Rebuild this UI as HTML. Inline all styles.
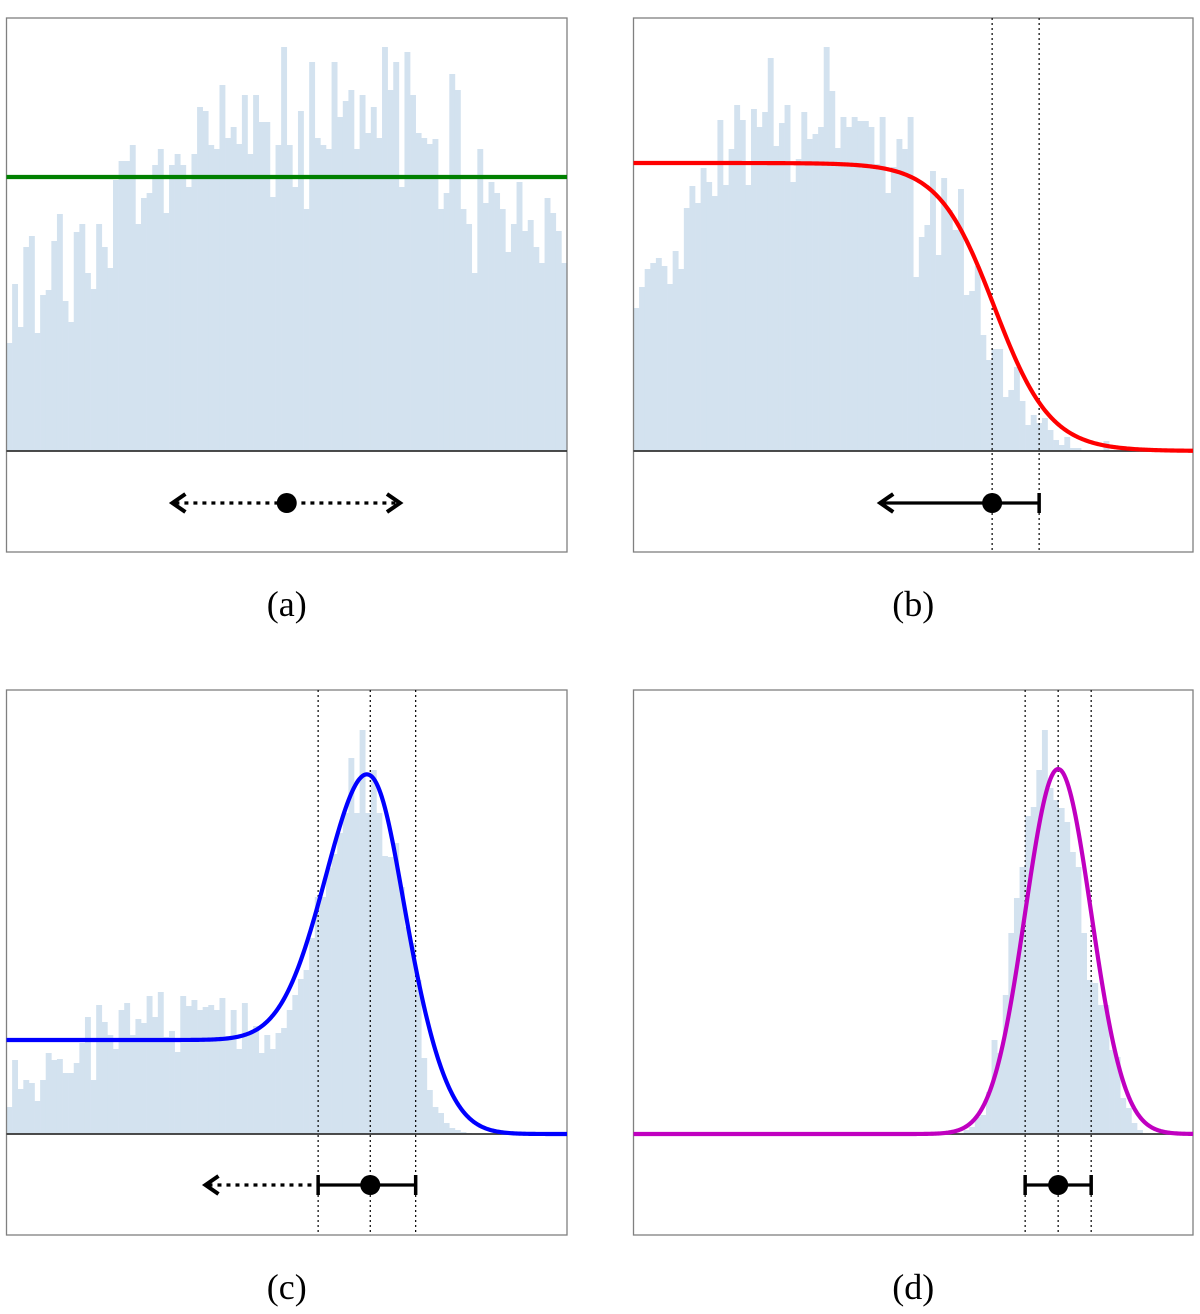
<!DOCTYPE html>
<html><head><meta charset="utf-8">
<style>
html,body{margin:0;padding:0;background:#fff;}
svg{display:block;}
text{font-family:"Liberation Serif",serif;}
</style></head>
<body>
<svg id="fig" width="1200" height="1314" viewBox="0 0 1200 1314" xmlns="http://www.w3.org/2000/svg"></svg>
<script>
// ---- data (bin heights, in histogram count units) ----
const histA = [108,167,124,204,215,118,156,161,210,237,150,129,219,227,178,162,227,204,183,271,
290,290,306,227,253,258,286,302,238,286,297,286,264,297,344,340,306,302,366,313,
324,307,356,297,356,329,329,254,306,404,306,264,340,242,389,313,306,302,389,334,
350,361,302,356,318,344,313,404,361,389,264,399,356,318,313,307,312,242,258,377,
361,242,227,178,302,248,269,258,242,199,227,269,220,231,204,188,253,238,220,188];
const histB = [143,164,182,188,193,185,167,200,182,243,265,248,283,269,255,331,266,302,346,331,
266,342,324,339,393,305,328,346,269,292,339,312,317,324,404,360,303,334,324,334,
330,330,324,287,334,258,284,312,302,334,174,214,226,280,196,273,241,221,262,156,
160,185,116,91,102,102,54,61,84,50,26,36,28,33,21,11,6,14,3,3,
0,0,0,0,10,0,0,0,0,0,0,0,0,0,0,0,0,0,0,0];
const histC = [27,74,45,54,51,33,54,81,74,75,61,61,71,91,117,54,129,112,99,85,
124,131,99,115,111,138,117,142,97,103,82,138,128,134,124,127,129,124,136,97,
124,85,131,101,108,81,99,85,101,106,124,139,155,164,196,237,237,266,280,301,
321,376,321,404,321,364,321,278,277,291,247,207,191,154,76,44,27,21,11,6,
4,2,1,0,0,0,0,0,0,0,0,0,0,0,0,0,0,0,0,0];
const histD = [0,0,0,0,0,0,0,0,0,0,0,0,0,0,0,0,0,0,0,0,
0,0,0,0,0,0,0,0,0,0,0,0,0,0,0,0,0,0,0,0,
0,0,0,0,0,0,0,0,0,0,0,0,0,0,0,0,0,0,0,4,
7,17,19,42,94,81,139,201,236,267,318,327,364,404,346,334,326,312,282,267,
201,154,151,129,129,84,77,36,26,11,4,0,0,0,0,0,0,0,0,0];
// model parameters (x in bin units 0..100, y in count units)
const flatLevelA = [274];
const sigmoidB = [288, 64.5, 5.0];            // height, center, scale
const peakC = [94, 275, 65.1, 8.0, 7.3, 69.3, 2.1]; // plateau, amp, mean, sigL, sigR, cutCenter, cutScale
const gaussD = [365, 75.9, 5.9];              // amp, mean, sigma
// estimate markers (bin units)
const estA = [50.0, 29.6, 70.2];
const estB = [64.1, 44.1, 72.5];
const estC = [64.9, 35.5, 55.6, 73.0];
const estD = [75.9, 70.0, 81.8];
const labels = ["(a)","(b)","(c)","(d)"];

const NS = "http://www.w3.org/2000/svg";
const svg = document.getElementById("fig");
function mk(tag, attrs, parent){
  const e = document.createElementNS(NS, tag);
  for (const k in attrs) e.setAttribute(k, attrs[k]);
  (parent||svg).appendChild(e);
  return e;
}
const panels = [
  {x0:6.5, x1:567, top:18, base:451, bot:552},
  {x0:633.5, x1:1193, top:18, base:451, bot:552},
  {x0:6.5, x1:567, top:690, base:1134, bot:1235},
  {x0:633.5, x1:1193, top:690, base:1134, bot:1235}
];
function xs(p, v){ return p.x0 + (p.x1 - p.x0) * v / 100; }
function ys(p, v){ return p.base - v; }

function drawPanel(i, hist, curveFn, color, dashes, name){
  const p = panels[i];
  const g = mk("g", {});
  
  
  const bw = (p.x1 - p.x0) / hist.length;
  const hg = mk("g", {}, g);
  
  
  hist.forEach((v, k) => {
    if (v <= 0) return;
    const x = xs(p, k * 100 / hist.length);
    const r = mk("rect", {x:x, y:ys(p, v), width:bw + 0.3, height:p.base - ys(p, v), fill:"#d3e2ef"}, hg);
    
    
  });
  const fr = mk("rect", {x:p.x0, y:p.top, width:p.x1 - p.x0, height:p.bot - p.top, fill:"none", stroke:"#808080", "stroke-width":1.3}, g);
  
  
  const bl = mk("line", {x1:p.x0, x2:p.x1, y1:p.base, y2:p.base, stroke:"#333", "stroke-width":1.8}, g);
  
  
  dashes.forEach(d => {
    const l = mk("line", {x1:xs(p,d), x2:xs(p,d), y1:p.top, y2:p.bot, stroke:"#000", "stroke-width":1.2, "stroke-dasharray":"2,3"}, g);
    
    
  });
  let d = "";
  for (let s = 0; s <= 400; s++) {
    const v = s / 4;
    d += (s ? "L" : "M") + xs(p, v).toFixed(2) + "," + ys(p, curveFn(v)).toFixed(2);
  }
  const c = mk("path", {d:d, fill:"none", stroke:color, "stroke-width":4.2, "stroke-linejoin":"round"}, g);
  
  
  return g;
}
function chevron(g, x, y, dir){
  const h = mk("path", {d:`M${x + dir*13},${y-9} L${x},${y} L${x + dir*13},${y+9}`, fill:"none", stroke:"#000", "stroke-width":4, "stroke-linejoin":"miter"}, g);
  
  
}
function seg(g, x1, x2, y, dotted, name){
  const l = mk("line", {x1:x1, x2:x2, y1:y, y2:y, stroke:"#000", "stroke-width":3.2}, g);
  if (dotted) l.setAttribute("stroke-dasharray", "4,5");
  
  
}
function cap(g, x, y){
  const l = mk("line", {x1:x, x2:x, y1:y-10, y2:y+10, stroke:"#000", "stroke-width":3.5}, g);
  
  
}
function dot(g, x, y){
  const c = mk("circle", {cx:x, cy:y, r:10, fill:"#000"}, g);
  
  
}
function label(i, t){
  const p = panels[i];
  const e = mk("text", {x:(p.x0 + p.x1) / 2, y:p.bot + 64, "text-anchor":"middle", "font-size":36, fill:"#000"});
  e.textContent = t;
  
  
}

let g = drawPanel(0, histA, v => flatLevelA[0], "#008000", [], "a");
{ const p = panels[0], y = 503;
  seg(g, xs(p, estA[1]) + 3, xs(p, estA[2]) - 3, y, true, 'range-arrow');
  chevron(g, xs(p, estA[1]), y, 1); chevron(g, xs(p, estA[2]), y, -1);
  dot(g, xs(p, estA[0]), y); }
g = drawPanel(1, histB, v => sigmoidB[0] / (1 + Math.exp((v - sigmoidB[1]) / sigmoidB[2])), "#ff0000", [estB[0], estB[2]], "b");
{ const p = panels[1], y = 503;
  seg(g, xs(p, estB[1]) + 2, xs(p, estB[2]), y, false, 'upper-limit-arrow');
  chevron(g, xs(p, estB[1]), y, 1); cap(g, xs(p, estB[2]), y);
  dot(g, xs(p, estB[0]), y); }
g = drawPanel(2, histC, v => {
  const cut = 1 / (1 + Math.exp((v - peakC[5]) / peakC[6]));
  const s = v < peakC[2] ? peakC[3] : peakC[4];
  return peakC[0] * cut + peakC[1] * Math.exp(-Math.pow(v - peakC[2], 2) / (2 * s * s));
}, "#0000ff", [estC[2], estC[0], estC[3]], "c");
{ const p = panels[2], y = 1185;
  seg(g, xs(p, estC[1]) + 3, xs(p, estC[2]), y, true, 'tail-arrow');
  chevron(g, xs(p, estC[1]), y, 1);
  seg(g, xs(p, estC[2]), xs(p, estC[3]), y, false, 'error-bar');
  cap(g, xs(p, estC[2]), y); cap(g, xs(p, estC[3]), y);
  dot(g, xs(p, estC[0]), y); }
g = drawPanel(3, histD, v => gaussD[0] * Math.exp(-Math.pow(v - gaussD[1], 2) / (2 * gaussD[2] * gaussD[2])), "#c000c0", [estD[1], estD[0], estD[2]], "d");
{ const p = panels[3], y = 1185;
  seg(g, xs(p, estD[1]), xs(p, estD[2]), y, false, 'error-bar');
  cap(g, xs(p, estD[1]), y); cap(g, xs(p, estD[2]), y);
  dot(g, xs(p, estD[0]), y); }
labels.forEach((t, i) => label(i, t));
</script>
</body></html>
